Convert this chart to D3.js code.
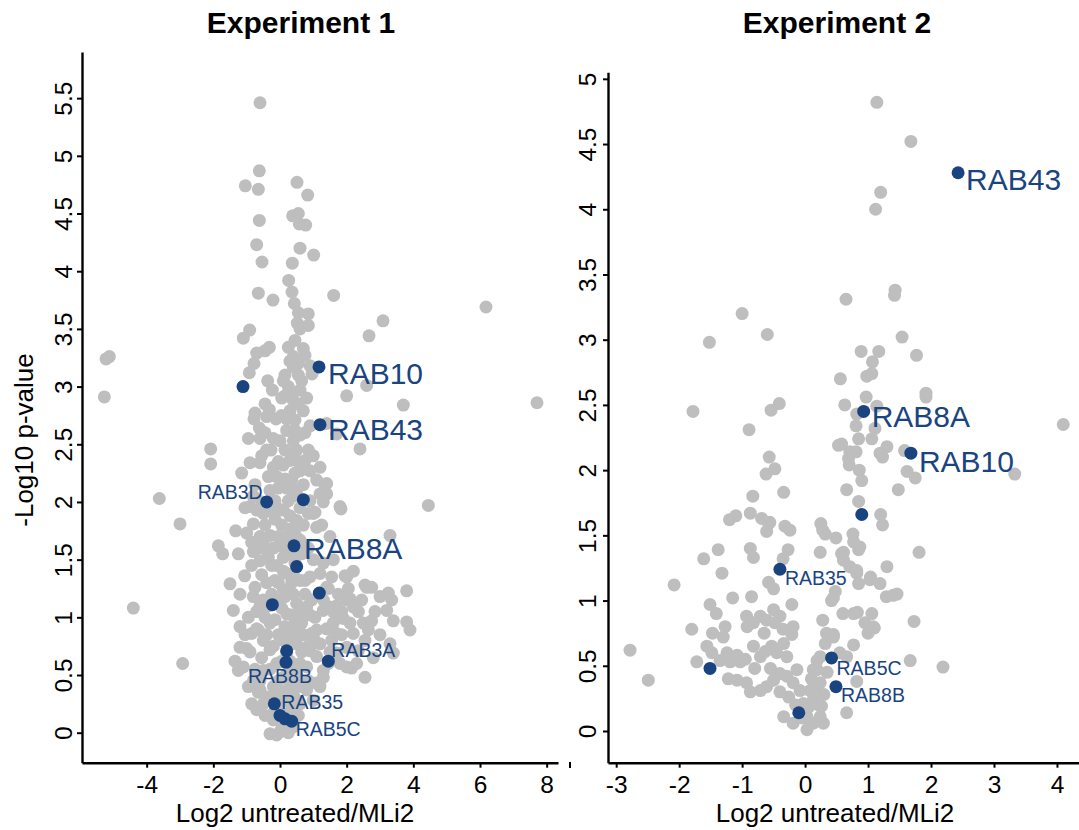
<!DOCTYPE html>
<html><head><meta charset="utf-8">
<script src="https://cdn.jsdelivr.net/npm/d3@7"></script>
<style>
body{margin:0;background:#fff;}
svg{display:block;}
text{font-family:"Liberation Sans",Arial,Helvetica,sans-serif;}
</style>
</head><body>
<svg id="chart" width="1079" height="830"></svg>
<script>
// ---------------- DATA ----------------
const exp1XTicks = [-4, -2, 0, 2, 4, 6, 8];
const exp1YTicks = [0, 0.5, 1, 1.5, 2, 2.5, 3, 3.5, 4, 4.5, 5, 5.5];
const exp2XTicks = [-3, -2, -1, 0, 1, 2, 3, 4];
const exp2YTicks = [0, 0.5, 1, 1.5, 2, 2.5, 3, 3.5, 4, 4.5, 5];

// Experiment 1: all proteins (grey) [log2 ratio, -log10 p]
const exp1Grey = [
[-0.60,5.46],[-0.62,4.87],[-1.04,4.74],[-0.65,4.71],[0.51,4.77],[0.83,4.66],[-0.62,4.44],[0.38,4.48],[0.55,4.50],[0.58,4.41],[0.77,4.40],[-0.70,4.23],[0.60,4.20],[1.01,4.14],[-0.54,4.08],[0.37,4.07],[0.26,3.92],[0.36,3.82],[-0.65,3.81],[-0.21,3.75],[1.61,3.79],[0.43,3.72],[0.55,3.64],[0.85,3.63],[0.52,3.55],[0.85,3.53],[0.60,3.50],[3.09,3.57],[2.67,3.44],[6.18,3.69],[7.71,2.86],[3.70,2.84],[-0.91,3.49],[-1.10,3.42],[-5.12,3.26],[-5.22,3.24],[-5.27,2.91],[-0.32,3.34],[-0.70,3.29],[-0.45,3.31],[-0.78,3.20],[-0.92,3.12],[0.25,3.34],[0.45,3.40],[0.70,3.33],[0.40,3.26],[0.40,3.17],[0.55,3.10],[0.96,3.11],[-0.37,3.05],[-0.23,2.97],[-0.45,2.85],[0.25,3.00],[0.60,2.97],[0.40,2.88],[0.80,2.90],[2.00,2.92],[2.60,3.01],[-0.32,2.80],[-0.12,2.72],[-0.40,2.74],[-0.78,2.72],[-0.62,2.64],[-0.75,2.77],[2.40,2.46],[-2.08,2.46],[-2.08,2.33],[-3.62,2.03],[-3.00,1.81],[-4.40,1.08],[-2.92,0.60],[-1.33,1.75],[-1.85,1.62],[-1.72,1.55],[-0.90,2.34],[-0.60,2.34],[-0.27,2.45],[-0.55,2.40],[-0.35,2.22],[-0.10,2.22],[-0.90,1.96],[-0.70,1.93],[-1.00,1.73],[-0.80,1.81],[-0.80,1.57],[-0.50,1.64],[-0.35,1.52],[-0.60,1.49],[-1.06,1.36],[-1.50,1.29],[-0.75,1.26],[-0.80,1.18],[-0.50,1.15],[-1.40,1.06],[-1.20,0.92],[-0.65,0.89],[-0.85,0.86],[-1.35,0.62],[-1.25,0.54],[-1.20,0.74],[-1.00,0.73],[-1.10,0.57],[-0.95,0.40],[-0.85,0.25],[-0.40,0.31],[-0.20,0.17],[0.05,0.08],[0.00,0.01],
[4.45,1.97],[1.83,1.94],[1.35,2.14],[1.40,2.07],[1.05,1.91],[3.30,1.71],[1.95,1.36],[2.55,1.28],[2.75,1.26],[2.10,1.16],[2.35,1.05],[1.85,1.05],[1.90,0.99],[3.25,1.21],[3.35,1.15],[3.20,1.06],[3.80,1.23],[2.50,0.95],[2.75,0.97],[2.65,0.89],[3.80,0.96],[3.90,0.89],[3.40,0.69],[3.30,0.77],[2.55,0.48],[2.15,0.56],[1.80,0.60],[2.35,0.71],[2.00,0.74],[1.00,0.83],[1.20,0.77],[0.90,0.71],[1.10,0.66],[1.30,0.54],[1.10,0.43],[0.90,1.02],[1.10,0.89],[1.30,1.06],[0.80,1.09],
[0.30,2.79],[0.45,2.71],[0.20,2.62],[0.40,2.53],[0.50,2.45],[0.30,2.36],[0.60,2.27],[0.35,2.19],[0.50,2.10],[0.25,2.01],[0.10,1.93],[0.50,1.84],[0.35,1.77],[0.20,1.70],[0.60,1.67],[0.30,1.55],[0.45,1.47],[0.20,1.38],[0.60,1.32],[0.30,1.21],[0.50,1.12],[0.20,1.03],[0.45,0.95],[0.30,0.86],[0.50,0.77],[0.20,0.69],[0.40,0.57],[0.10,0.48],[0.30,0.40],[-0.10,0.34],[-0.30,0.28],[0.20,0.28],[0.00,0.19],[-0.20,0.11],[0.10,0.05],[-0.30,-0.01],
[0.90,2.27],[1.10,2.19],[1.40,2.16],[1.80,1.96],[1.20,2.07],[1.00,1.90],[1.10,1.78],[1.30,1.47],[1.20,1.38],[1.40,1.26],[2.00,1.35],[1.70,2.59],[1.40,2.68],[2.60,1.26],[3.00,1.18],[3.40,0.97],[2.20,1.09],[2.00,1.15],[1.80,1.00],[1.70,0.86],[2.20,0.86],[2.00,0.57],[1.70,0.69],[1.30,0.48],[1.20,0.40],[1.00,0.28],[1.50,1.09],[1.30,1.15],[0.95,0.86],[0.80,0.57],[0.80,0.37],[0.60,0.25],
[0.75,3.27],[0.90,3.18],[0.15,2.92],[0.70,2.79],[0.90,2.66],[0.60,2.58],[0.75,2.36],[0.10,2.32],[0.90,2.01],[0.70,1.80],[0.00,1.62],[0.10,1.24],[0.75,1.32],[-0.15,0.98],[-0.30,0.72],[-0.50,0.54],[-0.60,0.37],[0.10,0.80],[-0.15,1.32],[-0.30,1.71],[-0.15,2.01],[-0.45,1.80],[-0.55,1.37],[0.00,2.53],[0.05,2.75],
[-0.55,0.65],[-0.30,0.55],[-0.60,0.45],[-0.40,0.85],[-0.20,0.75],[-0.45,1.00],[-0.25,1.20],[-0.10,1.45],[-0.20,1.60],[-0.15,1.85],[-0.30,2.10],[-0.05,2.35],[-0.20,2.55],[0.05,2.90],[0.15,3.10],[0.55,2.85],[0.75,2.60],[0.85,2.45],[0.70,2.15],[0.85,1.90],[0.65,1.55],[0.90,1.35],[0.75,1.20],[0.65,0.95],[0.85,0.75],[0.60,0.60],[0.70,0.45],[0.45,0.30],[0.55,0.15],[0.25,0.00],[-0.10,-0.02],[0.40,0.05],[-0.45,0.15],[-0.70,0.20],[-0.65,0.35],[-0.75,0.55],[-0.90,0.70],[-1.05,0.85],[-0.95,1.00],[-1.20,1.20],[-0.70,1.05],[-0.85,1.45],[-1.25,1.55],[-0.60,1.70],[-1.05,1.95],[-0.55,2.00],[-0.75,2.15],[-1.15,2.25],[-0.45,2.60],[-0.95,2.55],[1.00,2.40],[1.20,2.30],[1.50,1.70],[1.60,1.50],[1.45,1.25],[1.60,1.05],[1.55,0.80],[1.45,0.60],[2.30,0.60],[2.55,0.80],[2.80,0.65],[2.45,1.15],[2.85,1.05],[3.00,0.85],[1.75,1.20],[2.20,1.40],
[0.15,2.45],[0.35,2.40],[0.55,2.35],[0.15,2.20],[0.45,2.25],[0.20,2.12],[0.40,2.05],[0.60,1.95],[0.30,1.88],[0.05,1.80],[0.45,1.72],[0.25,1.62],[0.55,1.58],[0.10,1.52],[0.40,1.38],[0.10,1.40],[0.35,1.30],[0.15,1.18],[0.40,1.20],[0.60,1.05],[0.35,1.02],[0.05,1.08],[0.15,0.92],[0.55,0.88],[0.40,0.80],[0.25,0.75],[0.65,0.70],[0.05,0.62],[0.30,0.62],[0.50,0.50],[0.20,0.50],[0.40,0.42],[0.15,0.36],[0.35,0.20],[-0.05,0.45],[-0.20,0.40],[-0.10,0.60],[-0.05,0.85],[-0.30,0.95],[-0.10,1.15],[-0.35,1.10],[-0.05,1.30],[-0.25,1.45],[-0.05,1.70],[-0.40,1.58],[-0.10,1.95],[-0.25,1.92],[-0.05,2.12],[-0.20,2.30],[0.20,2.72],[0.45,2.62],[0.30,2.95],[0.10,3.05],[0.55,3.20],[0.65,3.05],[0.30,3.22],[-0.50,0.80],[-0.70,0.90],[-0.60,1.10],[-0.40,1.30],[-0.65,1.60],[-0.85,1.65],[-0.50,1.90],[-0.80,2.05],[-0.40,2.45],[-0.60,2.55],[0.85,1.60],[1.00,1.50],[0.95,1.15],[1.05,1.00],[0.70,0.85],[0.85,0.45],[0.55,0.40],[0.35,0.30],[-0.05,0.25],[-0.50,0.25],[-0.80,0.45],[1.40,0.90],[1.60,0.95],[1.50,0.70],[1.85,0.85],[2.10,0.95],[1.70,1.10],[1.55,1.35],[2.05,1.25],[1.25,1.80],[1.30,2.00]
];
// Experiment 1: highlighted RAB proteins
const exp1RabName = ["RAB10","","RAB43","RAB3D","","RAB8A","","","","","RAB8B","RAB3A","RAB35","","","RAB5C"];
const exp1RabX    = [1.17,-1.11,1.20,-0.40,0.70,0.42,0.50,1.18,-0.23,0.20,0.18,1.45,-0.17,0.00,0.15,0.35];
const exp1RabY    = [3.17,3.00,2.67,2.00,2.02,1.62,1.44,1.21,1.11,0.71,0.61,0.62,0.25,0.15,0.12,0.10];

// Experiment 2: all proteins (grey)
const exp2Grey = [
[1.14,4.82],[1.68,4.52],[1.20,4.13],[1.12,4.00],[1.43,3.38],[1.42,3.34],[0.65,3.31],[1.54,3.02],[0.89,2.91],[1.17,2.91],[1.77,2.88],[1.07,2.83],[0.56,2.70],[0.98,2.72],[1.06,2.74],[1.92,2.59],[1.92,2.56],[0.63,2.50],[0.97,2.56],[0.81,2.34],[1.11,2.32],[4.10,2.35],[1.14,2.49],
[-1.00,3.20],[-0.60,3.04],[-1.52,2.98],[-1.78,2.45],[-0.54,2.46],[-0.41,2.51],[0.82,2.43],[-0.89,2.31],[1.06,2.24],[0.85,2.24],[0.58,2.20],[0.71,2.14],[0.81,2.14],[0.69,2.09],[0.70,2.04],[0.86,2.00],[1.30,2.18],[1.23,2.10],[1.58,2.15],[1.62,1.99],[1.75,1.94],[-0.57,2.10],[-0.48,2.01],[-0.62,1.97],
[3.33,1.97],[1.48,1.85],[0.90,1.92],[0.66,1.85],[0.85,1.76],[1.19,2.13],[1.20,1.66],[1.23,1.58],[0.25,1.59],[0.28,1.54],[0.49,1.48],[0.76,1.51],[0.77,1.45],[0.85,1.39],[1.81,1.37],[0.58,1.36],[0.61,1.31],[0.71,1.26],[0.82,1.21],[0.85,1.13],[1.04,1.18],[1.19,1.13],[1.30,1.26],[0.48,1.07],[0.45,1.02],[1.29,1.03],[1.46,1.05],[0.83,0.91],[1.06,0.90],[0.95,0.83],[1.00,0.75],[1.10,0.79],[1.73,0.84],[0.34,0.75],[0.45,0.74],[0.32,0.67],[0.77,0.66],[1.67,0.54],[2.19,0.49],[0.82,0.38],[0.66,0.14],[0.19,0.54],[0.13,0.47],[0.24,0.37],[0.08,0.31],[0.16,0.21],[0.03,0.11],[0.08,0.06],[0.29,0.06],[0.24,0.19],
[-2.78,0.62],[-2.49,0.39],[-2.08,1.12],[-1.80,0.78],[-1.61,1.32],[-1.38,1.39],[-1.32,1.21],[-1.20,1.62],[-1.10,1.65],[-0.83,1.80],[-0.34,1.83],[-0.69,1.63],[-0.58,1.59],[-0.61,1.53],[-0.32,1.57],[-0.24,1.54],[-0.87,1.40],[-0.82,1.33],[-0.27,1.39],[-0.35,1.32],[-0.58,1.14],[-0.50,1.09],[-1.15,1.02],[-0.85,1.03],[-1.51,0.97],[-1.41,0.90],[-0.93,0.88],[-0.82,0.83],[-0.92,0.80],[-0.71,0.88],[-0.61,0.85],[-0.50,0.93],[-0.40,0.88],[-0.48,0.83],[-0.21,0.97],[-0.19,0.80],[-0.21,0.74],[-1.47,0.75],[-1.30,0.72],[-1.27,0.80],[-1.56,0.65],[-1.48,0.60],[-1.72,0.53],[-1.35,0.54],[-1.24,0.60],[-1.08,0.58],[-1.19,0.53],[-1.03,0.53],[-0.82,0.65],[-0.71,0.57],[-0.63,0.61],[-0.53,0.65],[-0.45,0.60],[-0.34,0.67],[-0.29,0.57],[-1.22,0.40],[-1.08,0.39],[-0.93,0.37],[-0.87,0.30],[-0.71,0.31],[-0.61,0.34],[-0.50,0.39],[-0.40,0.44],[-0.29,0.42],[-0.19,0.37],[-0.13,0.47],[-0.08,0.31],[-0.26,0.26],[-0.03,0.21],[-0.34,0.11],[-0.19,0.06],[0.03,0.01],[0.13,0.06],[0.24,0.11],[0.26,0.19],[0.13,0.24],[0.19,0.47],[0.24,0.57],[0.45,0.72],[0.66,0.57],[-0.87,1.67],[-0.56,1.60],
[0.24,1.37],[0.32,1.51],[0.61,1.37],[0.87,1.41],[1.40,1.04],[0.77,0.90],[1.08,0.80],[0.42,1.00],[1.03,1.16],[0.82,1.23],[0.53,2.19],
[-0.05,0.10],[0.05,0.18],[-0.15,0.20],[0.15,0.32],[0.30,0.28],[0.35,0.45],[0.10,0.40],[-0.40,0.30],[-0.55,0.48],[-0.80,0.48],[-0.95,0.55],[-0.65,0.75],[-0.35,0.78],[0.28,0.85],[0.55,0.60],[0.60,0.90]
];
// Experiment 2: highlighted RAB proteins
const exp2RabName = ["RAB43","RAB8A","RAB10","","RAB35","","RAB5C","RAB8B",""];
const exp2RabX    = [2.43,0.93,1.68,0.90,-0.40,-1.51,0.42,0.49,-0.10];
const exp2RabY    = [4.28,2.45,2.13,1.66,1.24,0.48,0.56,0.34,0.14];

// ---------------- LAYOUT / STYLE ----------------
const GREY = "#bebebe", BLUE = "#1a4480", R = 6.5;
const bigLabels = ["RAB10","RAB43","RAB8A"];
const exp1Place = {
  RAB10:{dx:9,dy:7,a:"start"}, RAB43:{dx:8,dy:5,a:"start"}, RAB8A:{dx:10,dy:3,a:"start"},
  RAB3D:{dx:-4,dy:-10,a:"end"}, RAB3A:{dx:3,dy:-11,a:"start"}, RAB8B:{dx:-6,dy:14,a:"middle"},
  RAB35:{dx:7,dy:-2,a:"start"}, RAB5C:{dx:4,dy:8,a:"start"}
};
const exp2Place = {
  RAB43:{dx:8,dy:7,a:"start"}, RAB8A:{dx:8,dy:5,a:"start"}, RAB10:{dx:8,dy:8,a:"start"},
  RAB35:{dx:5,dy:9,a:"start"}, RAB5C:{dx:5,dy:10,a:"start"}, RAB8B:{dx:5,dy:9,a:"start"}
};

const svg = d3.select("#chart");

const panels = [
  {title:"Experiment 1", grey:exp1Grey, names:exp1RabName, rx:exp1RabX, ry:exp1RabY,
   xTicks:exp1XTicks, yTicks:exp1YTicks, place:exp1Place,
   x:d3.scaleLinear().domain([-5.94, 8.34]).range([82, 558]),
   y:d3.scaleLinear().domain([-0.26, 5.90]).range([762.7, 52]),
   titleX:301, xLabX:295, yGap:10},
  {title:"Experiment 2", grey:exp2Grey, names:exp2RabName, rx:exp2RabX, ry:exp2RabY,
   xTicks:exp2XTicks, yTicks:exp2YTicks, place:exp2Place,
   x:d3.scaleLinear().domain([-3.13, 4.35]).range([608, 1079]),
   y:d3.scaleLinear().domain([-0.243, 5.05]).range([762.7, 72.3]),
   titleX:837, xLabX:835, yGap:12}
];

panels.forEach(p => {
  const g = svg.append("g");
  const x0 = p.x.range()[0], yb = p.y.range()[0];

  g.append("g").selectAll("circle").data(p.grey).join("circle")
    .attr("cx", d => p.x(d[0])).attr("cy", d => p.y(d[1])).attr("r", R).attr("fill", GREY);

  const idx = d3.range(p.names.length);
  g.append("g").selectAll("circle").data(idx).join("circle")
    .attr("cx", i => p.x(p.rx[i])).attr("cy", i => p.y(p.ry[i])).attr("r", R).attr("fill", BLUE);

  g.append("g").selectAll("text").data(idx.filter(i => p.names[i] !== "")).join("text")
    .attr("x", i => p.x(p.rx[i]) + p.place[p.names[i]].dx)
    .attr("y", i => p.y(p.ry[i]) + p.place[p.names[i]].dy)
    .attr("dy", "0.35em")
    .attr("text-anchor", i => p.place[p.names[i]].a)
    .attr("font-size", i => bigLabels.includes(p.names[i]) ? 30 : 19.5)
    .attr("fill", BLUE)
    .text(i => p.names[i]);

  const xa = g.append("g").attr("transform", `translate(0,${yb})`)
    .call(d3.axisBottom(p.x).tickValues(p.xTicks).tickSize(5).tickSizeOuter(0).tickFormat(d => String(d)));
  const ya = g.append("g").attr("transform", `translate(${x0},0)`)
    .call(d3.axisLeft(p.y).tickValues(p.yTicks).tickSize(5).tickSizeOuter(0).tickFormat(d => String(d)));
  [xa, ya].forEach(a => {
    a.select(".domain").attr("stroke", "#000").attr("stroke-width", 2.4);
    a.selectAll(".tick line").attr("stroke", "#000").attr("stroke-width", 2);
    a.selectAll(".tick text").attr("fill", "#000").attr("font-size", 24.5)
      .attr("font-family", "'Liberation Sans',Arial,Helvetica,sans-serif");
  });
  xa.selectAll(".tick text").attr("y", 30).attr("dy", 0);
  ya.selectAll(".tick text").attr("transform", "rotate(-90)")
    .attr("x", 0).attr("y", -p.yGap).attr("dy", 0).attr("text-anchor", "middle");

  svg.append("text").attr("x", p.titleX).attr("y", 33).attr("text-anchor", "middle")
    .attr("font-size", 30).attr("font-weight", "bold").attr("fill", "#000").text(p.title);
  svg.append("text").attr("x", p.xLabX).attr("y", 822).attr("text-anchor", "middle")
    .attr("font-size", 26).attr("fill", "#000").text("Log2 untreated/MLi2");
});

svg.append("text").attr("transform", "translate(33,440) rotate(-90)").attr("text-anchor", "middle")
  .attr("font-size", 26).attr("fill", "#000").text("-Log10 p-value");

// small stray tick mark between the panels (present in the original)
svg.append("line").attr("x1", 570).attr("x2", 570).attr("y1", 762).attr("y2", 768)
  .attr("stroke", "#000").attr("stroke-width", 2);
</script>
</body></html>
